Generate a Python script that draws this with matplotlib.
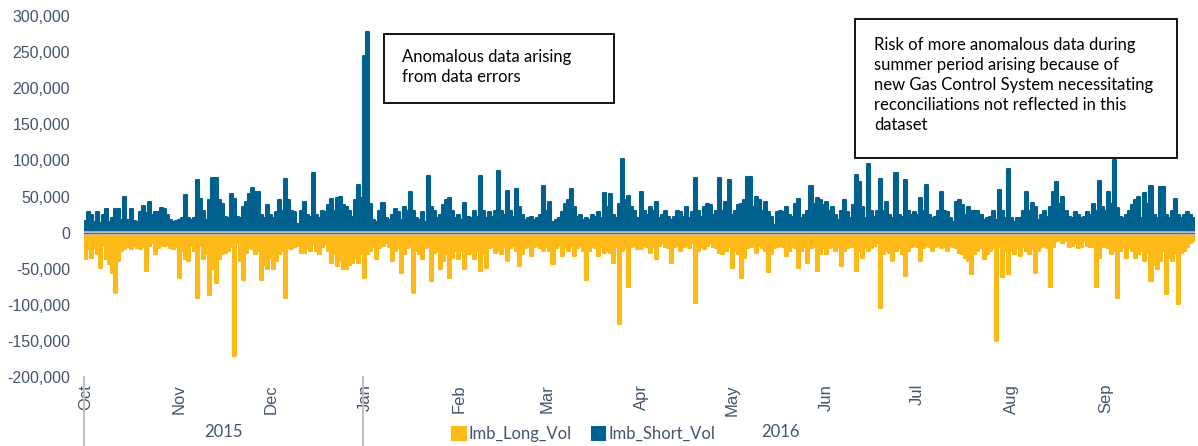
import matplotlib
matplotlib.use("Agg")
import matplotlib.pyplot as plt
from matplotlib.ticker import FuncFormatter
import numpy as np

# daily imbalance volumes, Oct 2015 - Sep 2016 (thousands), one list per month
short_oct = [16,29,25,14,29,13,25,33,14,20, 32,32,18,50,18,32,16,15,29,37, 27,42,25,29,29,34,33,25,18,14, 16]
short_nov = [18,20,52,20,18,20,73,47,30,18, 45,76,75,45,40,22,20,53,46,22, 20,35,42,53,62,56,56,25,20,38]
short_dec = [25,20,28,45,30,74,45,30,28,12, 30,43,25,22,82,25,20,30,28,38, 47,30,48,50,38,36,30,22,45,66, 48]
short_jan = [245,278,40,18,15,30,41,20,18,25, 32,28,18,35,30,56,30,20,18,28, 15,78,35,30,20,25,38,45,48,30, 20]
short_feb = [25,18,41,22,20,30,22,79,30,20, 28,22,30,85,30,25,58,30,22,60, 35,25,18,20,22,18,20,25,65]
short_mar = [30,43,15,18,20,28,40,45,60,35, 22,25,18,20,18,25,22,28,20,55, 35,54,25,20,40,102,45,51,35,30, 20]
short_apr = [56,30,25,35,30,42,20,25,30,22, 18,22,30,28,22,35,20,28,75,30, 22,35,40,38,25,30,75,30,42,73]
short_may = [25,30,38,40,45,77,77,35,50,45, 30,42,28,22,10,28,30,28,35,25, 22,40,46,20,25,30,65,40,48,45, 38]
short_jun = [43,30,35,25,18,30,45,28,20,38, 80,70,35,20,95,30,22,30,74,30, 42,25,20,82,25,22,73,30,25,28]
short_jul = [25,48,30,66,25,20,22,30,56,30, 29,20,15,43,45,38,25,35,30,30, 30,25,18,20,22,30,18,59,30,20, 88]
short_aug = [20,15,20,20,30,56,30,41,36,18, 25,30,22,35,56,70,40,50,30,22, 20,29,25,20,22,28,25,40,30,72, 35]
short_sep = [30,56,40,100,34,22,20,25,30,38, 45,49,20,55,40,64,25,20,63,63, 25,20,30,46,25,20,25,28,25,20]

long_oct = [37,23,35,21,30,49,19,37,44,56, 83,40,25,23,20,23,18,21,23,20, 53,18,15,30,21,18,19,17,21,23, 20]
long_nov = [63,25,37,40,19,25,90,19,37,30, 86,51,70,37,30,28,25,20,171,15, 40,65,28,22,23,30,25,65,45,51]
long_dec = [35,51,40,30,25,90,22,23,20,19, 28,28,22,26,16,25,30,20,16,25, 42,30,46,40,51,51,45,42,35,42, 30]
long_jan = [63,30,25,20,37,22,18,14,20,40, 25,22,56,30,22,20,83,25,30,37, 22,20,67,28,25,51,40,30,63,35, 25]
long_feb = [37,25,51,30,28,37,25,53,30,49, 22,20,28,25,30,20,40,22,18,25, 46,30,22,20,33,20,18,22,25]
long_mar = [20,25,44,22,18,33,20,25,18,33, 22,18,25,65,25,20,22,33,20,28, 25,28,42,20,127,25,22,76,20,18, 23]
long_apr = [23,18,20,28,20,37,18,15,20,22, 42,20,18,26,20,18,22,15,97,25, 20,23,18,15,20,22,28,30,25,20]
long_may = [49,25,30,63,35,22,20,20,28,18, 22,25,55,30,22,20,18,20,33,25, 20,22,49,25,20,42,22,20,53,30, 22]
long_jun = [30,22,20,25,20,46,25,22,20,20, 53,25,35,20,25,22,18,15,105,30, 25,28,40,25,22,30,60,25,20,18]
long_jul = [20,40,22,18,20,26,20,18,22,20, 25,18,20,22,28,30,35,40,58,30, 25,22,37,30,25,22,150,20,61,25, 58]
long_aug = [25,30,22,33,20,25,30,22,56,25, 20,18,22,75,20,12,10,15,12,20, 18,15,22,20,12,18,20,20,76,35, 20]
long_sep = [20,22,30,25,90,25,20,35,22,25, 35,30,25,40,28,67,45,51,40,25, 85,35,40,30,99,28,25,20,15,12]

month_labels = ["Oct", "Nov", "Dec", "Jan", "Feb", "Mar", "Apr", "May", "Jun", "Jul", "Aug", "Sep"]
years = ["2015", "2016"]

short_months = [short_oct, short_nov, short_dec, short_jan, short_feb, short_mar,
                short_apr, short_may, short_jun, short_jul, short_aug, short_sep]
long_months = [long_oct, long_nov, long_dec, long_jan, long_feb, long_mar,
               long_apr, long_may, long_jun, long_jul, long_aug, long_sep]

short_vol = np.concatenate(short_months) * 1000.0
long_vol = -np.concatenate(long_months) * 1000.0
days = np.arange(len(short_vol))
month_start = np.cumsum([0] + [len(m) for m in short_months[:-1]])

blue = "#00618F"
yellow = "#FDB917"
txt = "#44546A"

fig = plt.figure(figsize=(11.98, 4.46), dpi=100)
ax = fig.add_axes([84/1198, 69/446, 1111/1198, 361/446])

ax.bar(days, long_vol, width=1.0, color=yellow, edgecolor=yellow, linewidth=1.5,
       joinstyle="round", label="Imb_Long_Vol")
ax.bar(days, short_vol, width=1.0, color=blue, edgecolor=blue, linewidth=1.5,
       joinstyle="round", label="Imb_Short_Vol")
ax.axhline(0, color="#C0C0C0", lw=2.6, zorder=3)
ax.axhline(0, color=blue, lw=0.6, zorder=4)

ax.set_xlim(-0.5, len(days) - 0.5)
ax.set_ylim(-200000, 300000)
ax.set_yticks(np.arange(-200000, 300001, 50000))
ax.yaxis.set_major_formatter(FuncFormatter(lambda v, p: "{:,.0f}".format(v)))
for s in ax.spines.values():
    s.set_visible(False)
ax.tick_params(axis="y", length=0, pad=10, labelsize=11.5, labelcolor=txt)
ax.set_xticks(month_start)
ax.set_xticklabels(month_labels, rotation=90, va="top", ha="center")
ax.tick_params(axis="x", length=0, pad=5, labelsize=12, labelcolor=txt)
for lab in ax.get_xticklabels() + ax.get_yticklabels():
    lab.set_family("Liberation Sans")

# year group separators and labels
trans = ax.get_xaxis_transform()
for x0 in [-0.5, month_start[3] - 0.5]:
    ax.plot([x0, x0], [0, -0.2], transform=trans, color="#BFBFBF", lw=1.5, clip_on=False)
ax.text((month_start[3] - 1) / 2.0, -0.152, years[0], transform=trans, ha="center", va="center",
        fontsize=12, color=txt, family="Lato")
ax.text((month_start[3] + len(days)) / 2.0, -0.152, years[1], transform=trans, ha="center",
        va="center", fontsize=12, color=txt, family="Lato")

leg = fig.legend(loc="center", bbox_to_anchor=(584/1198, 12/446), ncol=2, frameon=False,
                 prop={"family": "Lato", "size": 12}, handlelength=0.8, handleheight=0.8,
                 handletextpad=0.2, columnspacing=1.2)
for t in leg.get_texts():
    t.set_color(txt)

# annotation boxes
fig.text(402/1198, 1 - 67/446,
         "Anomalous data arising\nfrom data errors", ha="left", va="center",
         fontsize=12, family="Lato", color="black", linespacing=1.3)
fig.patches.append(plt.Rectangle((384/1198, 1 - 103/446), 230/1198, 69/446,
                                 transform=fig.transFigure, fill=False, ec="black", lw=1.3))
fig.text(874/1198, 1 - 85/446,
         "Risk of more anomalous data during\nsummer period arising because of\n"
         "new Gas Control System necessitating\nreconciliations not reflected in this\ndataset",
         ha="left", va="center", fontsize=12, family="Lato", color="black", linespacing=1.3)
fig.patches.append(plt.Rectangle((855/1198, 1 - 158/446), 322/1198, 139/446,
                                 transform=fig.transFigure, fill=False, ec="black", lw=1.3))

fig.savefig("out.png", dpi=100)
